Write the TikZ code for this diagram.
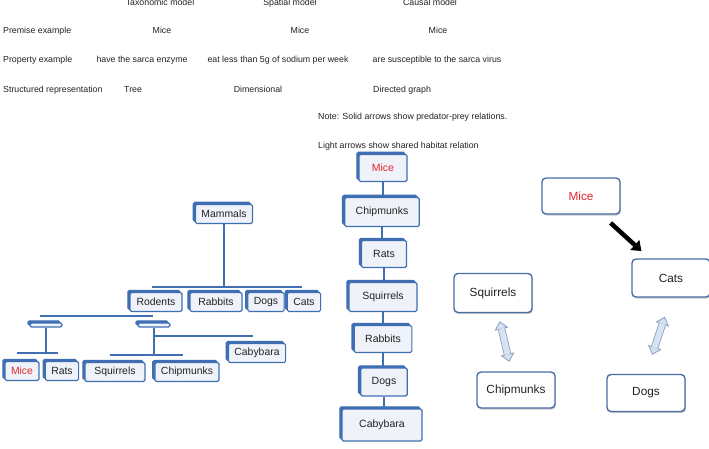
\documentclass[tikz,border=0pt]{standalone}
\usepackage{fontspec}
\setmainfont{Liberation Sans}
\usetikzlibrary{arrows.meta,shadows}
\definecolor{TreeBlue}{HTML}{3F6EB2}
\definecolor{BoxFill}{HTML}{EFF3F9}
\definecolor{MiceRed}{HTML}{E3262B}
\definecolor{EdgeBlue}{HTML}{4A6DA8}
\definecolor{HabitatFill}{HTML}{D6E3F5}
\definecolor{HabitatLine}{HTML}{8C9EBB}
\definecolor{TextGray}{HTML}{222222}
\tikzset{
  header/.style={font=\fontsize{8.8}{10}\selectfont, text=TextGray, inner sep=0pt, anchor=base},
  treebox/.style={
    draw=TreeBlue, line width=1.1pt, fill=BoxFill, rounded corners=1.5pt,
    copy shadow={shadow xshift=-2.2pt, shadow yshift=2.2pt, fill=TreeBlue, draw=TreeBlue},
    inner xsep=6pt, minimum height=19pt, text=TextGray, font=\fontsize{10.4}{12}\selectfont
  },
  spatbox/.style={
    treebox, inner xsep=11pt, minimum width=45pt, minimum height=27pt,
    font=\fontsize{10.5}{12}\selectfont
  },
  causalbox/.style={
    draw=EdgeBlue, line width=1.4pt, fill=white, rounded corners=4pt,
    drop shadow={shadow xshift=0.8pt, shadow yshift=-1.5pt, opacity=0.35, fill=black!60},
    minimum width=78pt, minimum height=36pt, text=TextGray, font=\fontsize{11.8}{13}\selectfont
  },
  treeline/.style={draw=TreeBlue, line width=2.8pt},
  preyflow/.style={-{Triangle[length=9pt,width=13pt]}, line width=4.5pt, draw=black},
  habitat/.style={
    {Triangle[length=8pt,width=14pt,line width=0.8pt,fill=HabitatFill]}-{Triangle[length=8pt,width=14pt,line width=0.8pt,fill=HabitatFill]},
    line width=7.5pt, draw=HabitatLine
  },
  habitatcore/.style={line width=5.9pt, draw=HabitatFill}
}
\begin{document}
\begin{tikzpicture}[x=1pt,y=-1pt]
  \useasboundingbox (0,0) rectangle (709,449);
  % table of the three models
  \node[header] (taxTitle) at (160,5.5) {Taxonomic model};
  \node[header] (spaTitle) at (290,5.5) {Spatial model};
  \node[header] (cauTitle) at (430,5.5) {Causal model};
  \node[header, anchor=base west] (premiseLbl) at (3,33.5) {Premise example};
  \node[header] (premiseTax) at (162,33.5) {Mice};
  \node[header] (premiseSpa) at (300,33.5) {Mice};
  \node[header] (premiseCau) at (438,33.5) {Mice};
  \node[header, anchor=base west] (propertyLbl) at (3,63) {Property example};
  \node[header] (propertyTax) at (142,63) {have the sarca enzyme};
  \node[header] (propertySpa) at (278,63) {eat less than 5g of sodium per week};
  \node[header] (propertyCau) at (437,63) {are susceptible to the sarca virus};
  \node[header, anchor=base west] (structLbl) at (3,92.5) {Structured representation};
  \node[header, anchor=base west] (structTax) at (124,92.5) {Tree};
  \node[header] (structSpa) at (258,92.5) {Dimensional};
  \node[header, anchor=base west] (structCau) at (373,92.5) {Directed graph};
  \node[header, anchor=base west] (noteSolid) at (318,120) {Note: Solid arrows show predator-prey relations.};
  \node[header, anchor=base west] (noteLight) at (318,149) {Light arrows show shared habitat relation};

  % tree
  \coordinate (topbarL) at (152,287);
  \coordinate (topbarR) at (302,287);
  \coordinate (rodbarL) at (40,316);
  \coordinate (rodbarR) at (153,316);
  \coordinate (grpAbarL) at (17,353);
  \coordinate (grpAbarR) at (58,353);
  \coordinate (grpBbarL) at (110,355);
  \coordinate (grpBbarR) at (183,355);
  \coordinate (cabybarR) at (253,336);
  \node[treebox, minimum width=49pt] (mammals) at (224,214) {Mammals};
  \draw[treeline] (mammals.south) -- (mammals.south |- topbarL);
  \draw[treeline] (topbarL) -- (topbarR);
  \node[treebox, minimum width=52pt] (rodents) at (156,302) {Rodents};
  \node[treebox, minimum width=52pt] (rabbits) at (216,302) {Rabbits};
  \node[treebox] (dogsT) at (266,302) {Dogs};
  \node[treebox] (catsT) at (304,302) {Cats};
  \draw[treeline] (rodbarL) -- (rodbarR);
  \node[treebox, minimum width=32pt, minimum height=4pt, inner sep=0pt] (groupA) at (46,325) {};
  \node[treebox, minimum width=32pt, minimum height=4pt, inner sep=0pt] (groupB) at (154,325) {};
  \draw[treeline] (groupA.south) -- (groupA.south |- grpAbarL);
  \draw[treeline] (grpAbarL) -- (grpAbarR);
  \draw[treeline] (groupB.south) -- (groupB.south |- grpBbarL);
  \draw[treeline] (grpBbarL) -- (grpBbarR);
  \draw[treeline] (groupB.south |- cabybarR) -- (cabybarR);
  \node[treebox, text=MiceRed] (miceT) at (22,371) {Mice};
  \node[treebox] (ratsT) at (62,371) {Rats};
  \node[treebox, minimum width=60pt] (squirrelsT) at (115,372) {Squirrels};
  \node[treebox] (chipmunksT) at (187,372) {Chipmunks};
  \node[treebox] (cabybaraT) at (257,353) {Cabybara};

  % dimension
  \node[spatbox, text=MiceRed, minimum width=48pt] (miceS) at (383,168) {Mice};
  \node[spatbox, minimum height=29pt] (chipmunksS) at (382,212) {Chipmunks};
  \node[spatbox] (ratsS) at (384,254) {Rats};
  \node[spatbox, minimum width=68pt, minimum height=29pt] (squirrelsS) at (383,297) {Squirrels};
  \node[spatbox, minimum width=48pt] (rabbitsS) at (383,339) {Rabbits};
  \node[spatbox, minimum height=28pt] (dogsS) at (384,382) {Dogs};
  \node[spatbox, minimum width=80pt, minimum height=32pt] (cabybaraS) at (382,425) {Cabybara};
  \foreach \a/\b in {miceS/chipmunksS,chipmunksS/ratsS,ratsS/squirrelsS,squirrelsS/rabbitsS,rabbitsS/dogsS,dogsS/cabybaraS}
    \draw[treeline] (\a.south) -- (\a.south |- \b.north);

  % directed graph
  \node[causalbox, text=MiceRed] (miceC) at (581,196) {Mice};
  \node[causalbox, minimum height=38pt] (catsC) at (671,278) {Cats};
  \node[causalbox, minimum height=39pt] (squirrelsC) at (493,293) {Squirrels};
  \node[causalbox] (chipmunksC) at (516,390) {Chipmunks};
  \node[causalbox, minimum height=37pt] (dogsC) at (646,393) {Dogs};
  \draw[preyflow, shorten <=40pt, shorten >=40pt] (miceC.center) -- (catsC.center);
  \draw[habitat, shorten <=29pt, shorten >=29pt] (squirrelsC.center) -- (chipmunksC.center);
  \draw[habitatcore, shorten <=36.3pt, shorten >=36.3pt] (squirrelsC.center) -- (chipmunksC.center);
  \draw[habitat, shorten <=20pt, shorten >=20pt] (catsC.south) -- (dogsC.north);
  \draw[habitatcore, shorten <=27.3pt, shorten >=27.3pt] (catsC.south) -- (dogsC.north);
\end{tikzpicture}
\end{document}
